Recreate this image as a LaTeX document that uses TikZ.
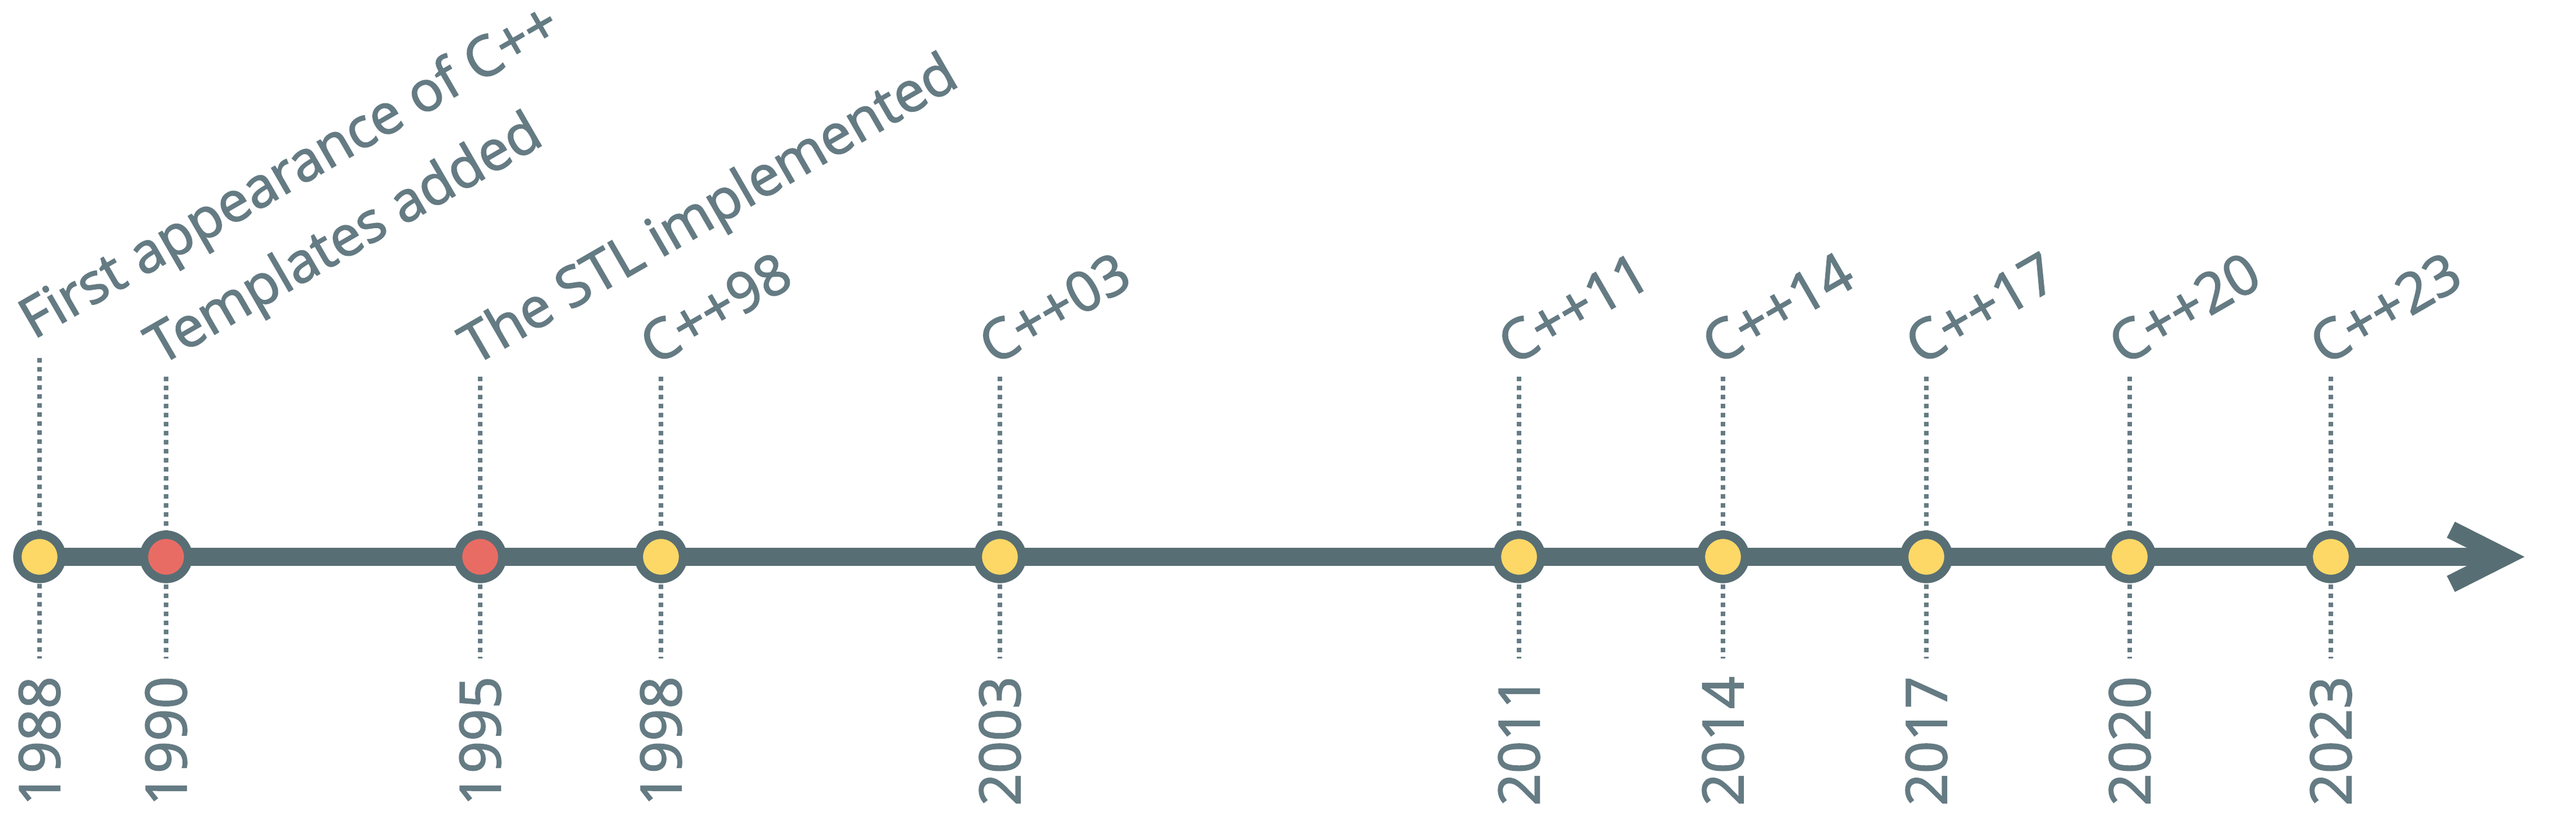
\documentclass[tikz,border=0pt]{standalone}
\usepackage{fontspec}
\setmainfont[FakeBold=2]{Open Sans}
\usetikzlibrary{backgrounds}
\definecolor{axisgrey}{HTML}{586E75}
\definecolor{textgrey}{HTML}{657B83}
\definecolor{dotyellow}{HTML}{FDD866}
\definecolor{dotred}{HTML}{E96C64}
\tikzset{
  event/.style={circle, draw=axisgrey, fill=dotyellow, line width=0.15cm,
    minimum size=0.784cm, inner sep=0pt},
  early/.style={event, fill=dotred},
  what/.style={anchor=base west, rotate=30, inner sep=0pt, text=textgrey,
    font=\fontsize{28pt}{34pt}\selectfont},
  year/.style={anchor=east, rotate=90, inner sep=0pt, text=textgrey,
    font=\fontsize{28.5pt}{34pt}\selectfont},
  guide/.style={textgrey, line width=0.08cm, dash pattern=on 0.08cm off 0.08cm},
  axisline/.style={axisgrey, line width=0.317cm}
}
\begin{document}
\begin{tikzpicture}
      \useasboundingbox (0,0) rectangle (45.6,14.52);
      \draw
        (0.70,4.66) node[event] (c1988){}
        (2.94,4.66) node[early] (c1990){}
        (8.50,4.66) node[early] (c1995){}
        (11.70,4.66) node[event] (c1998){}
        (17.70,4.66) node[event] (c2003){}
        (26.89,4.66) node[event] (c2011){}
        (30.50,4.66) node[event] (c2014){}
        (34.10,4.66) node[event] (c2017){}
        (37.70,4.66) node[event] (c2020){}
        (41.26,4.66) node[event] (c2023){};
      \coordinate (tip) at (44.336,4.66);
      \coordinate (t1988) at (0.70,8.18);
      \coordinate (t1990) at (2.94,7.85);
      \coordinate (t1995) at (8.50,7.85);
      \coordinate (t1998) at (11.70,7.85);
      \coordinate (t2003) at (17.70,7.85);
      \coordinate (t2011) at (26.89,7.85);
      \coordinate (t2014) at (30.50,7.85);
      \coordinate (t2017) at (34.10,7.85);
      \coordinate (t2020) at (37.70,7.85);
      \coordinate (t2023) at (41.26,7.85);
      \coordinate (b1988) at (0.70,2.86);
      \coordinate (b1990) at (2.94,2.86);
      \coordinate (b1995) at (8.50,2.86);
      \coordinate (b1998) at (11.70,2.86);
      \coordinate (b2003) at (17.70,2.86);
      \coordinate (b2011) at (26.89,2.86);
      \coordinate (b2014) at (30.50,2.86);
      \coordinate (b2017) at (34.10,2.86);
      \coordinate (b2020) at (37.70,2.86);
      \coordinate (b2023) at (41.26,2.86);
      \node[what] (w1988) at (0.59,8.50) {First appearance of C++};
      \node[what] (w1990) at (2.83,8.04) {Templates added};
      \node[what] (w1995) at (8.39,8.04) {The STL implemented};
      \node[what] (w1998) at (11.59,8.04) {C++98};
      \node[what] (w2003) at (17.59,8.04) {C++03};
      \node[what] (w2011) at (26.78,8.04) {C++11};
      \node[what] (w2014) at (30.39,8.04) {C++14};
      \node[what] (w2017) at (33.99,8.04) {C++17};
      \node[what] (w2020) at (37.59,8.04) {C++20};
      \node[what] (w2023) at (41.15,8.04) {C++23};
      \node[year] (y1988) at (0.70,2.55) {1988};
      \node[year] (y1990) at (2.94,2.55) {1990};
      \node[year] (y1995) at (8.50,2.55) {1995};
      \node[year] (y1998) at (11.70,2.55) {1998};
      \node[year] (y2003) at (17.70,2.55) {2003};
      \node[year] (y2011) at (26.89,2.55) {2011};
      \node[year] (y2014) at (30.50,2.55) {2014};
      \node[year] (y2017) at (34.10,2.55) {2017};
      \node[year] (y2020) at (37.70,2.55) {2020};
      \node[year] (y2023) at (41.26,2.55) {2023};
      \begin{scope}[on background layer]
        \draw[guide] (t1988) to (b1988);
        \draw[guide] (t1990) to (b1990);
        \draw[guide] (t1995) to (b1995);
        \draw[guide] (t1998) to (b1998);
        \draw[guide] (t2003) to (b2003);
        \draw[guide] (t2011) to (b2011);
        \draw[guide] (t2014) to (b2014);
        \draw[guide] (t2017) to (b2017);
        \draw[guide] (t2020) to (b2020);
        \draw[guide] (t2023) to (b2023);
        \draw[axisline] (c1988.center) to (tip);
        \draw[axisline, line join=miter] ([shift={(-0.951,0.48)}]tip) -- (tip)
          -- ([shift={(-0.951,-0.48)}]tip);
      \end{scope}
    \end{tikzpicture}
\end{document}
